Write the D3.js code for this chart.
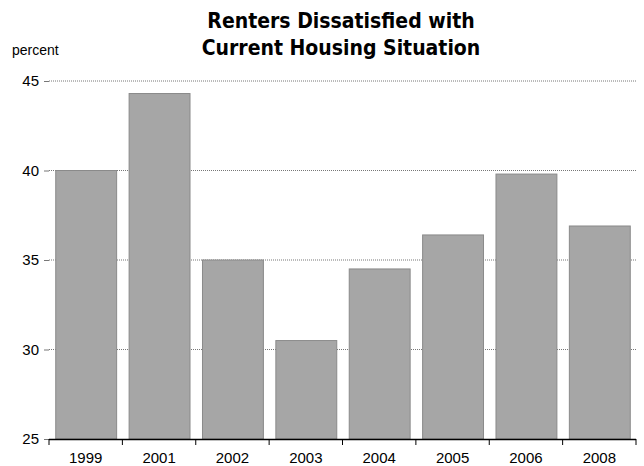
<!DOCTYPE html>
<html><head><meta charset="utf-8">
<script src="https://cdn.jsdelivr.net/npm/d3@7"></script>
<style>body{margin:0;background:#fff}</style>
</head><body>
<svg id="c" width="644" height="466"></svg>
<script>
const categories = ["1999","2001","2002","2003","2004","2005","2006","2008"];
const values = [40.0, 44.3, 35.0, 30.5, 34.5, 36.4, 39.8, 36.9];
const yTicks = [25, 30, 35, 40, 45];
const titleLines = ["Renters Dissatisfied with", "Current Housing Situation"];
const yLabel = "percent";

const svg = d3.select("#c");
const m = {l: 49, r: 636, t: 81, b: 439};
const titleFont = "'Liberation Sans Narrow','Arial Narrow','DejaVu Sans Condensed',sans-serif";
const font = "'Liberation Sans',Arial,sans-serif";
const x = d3.scaleBand().domain(categories).range([m.l, m.r]).paddingInner(0.17).paddingOuter(0.085);
const y = d3.scaleLinear().domain([25, 45]).range([m.b, m.t]);

// gridlines
svg.append("g").selectAll("line").data(yTicks.filter(t => t > 25)).join("line")
  .attr("x1", m.l).attr("x2", m.r).attr("y1", d => y(d)).attr("y2", d => y(d))
  .attr("stroke", "#777").attr("stroke-width", 1).attr("stroke-dasharray", "1,1");

// y axis
const ya = svg.append("g").attr("transform", `translate(${m.l},0)`)
  .call(d3.axisLeft(y).tickValues(yTicks).tickSize(5).tickPadding(5));
ya.select(".domain").remove();
ya.selectAll(".tick line").attr("stroke", "#777");
ya.selectAll("text").attr("font-family", font).attr("font-size", 15).attr("fill", "#000");

// bars
svg.append("g").selectAll("rect").data(categories).join("rect")
  .attr("x", d => x(d) + 0.5).attr("width", x.bandwidth())
  .attr("y", (d, i) => y(values[i])).attr("height", (d, i) => y(25) - y(values[i]))
  .attr("fill", "#a6a6a6").attr("stroke", "#8a8a8a").attr("stroke-width", 1);

// x axis
const bounds = d3.range(categories.length + 1).map(i => m.l + i * (m.r - m.l) / categories.length);
const xa = svg.append("g");
xa.append("line").attr("x1", m.l).attr("x2", m.r).attr("y1", m.b + 0.5).attr("y2", m.b + 0.5)
  .attr("stroke", "#000").attr("stroke-width", 1.5);
xa.selectAll(".tk").data(bounds).join("line").attr("class", "tk")
  .attr("x1", d => d).attr("x2", d => d).attr("y1", m.b).attr("y2", m.b + 6)
  .attr("stroke", "#000").attr("stroke-width", 1);
xa.selectAll("text").data(categories).join("text")
  .attr("x", d => x(d) + x.bandwidth() / 2).attr("y", m.b + 24)
  .attr("text-anchor", "middle").attr("font-family", font).attr("font-size", 15).text(d => d);

// title
svg.append("g").selectAll("text").data(titleLines).join("text")
  .attr("x", 341).attr("y", (d, i) => 28 + i * 27)
  .attr("text-anchor", "middle").attr("font-family", titleFont)
  .attr("font-weight", "bold").attr("font-size", 21).text(d => d);

svg.append("text").attr("x", 12).attr("y", 55).attr("font-family", font)
  .attr("font-size", 14).text(yLabel);
</script>
</body></html>
